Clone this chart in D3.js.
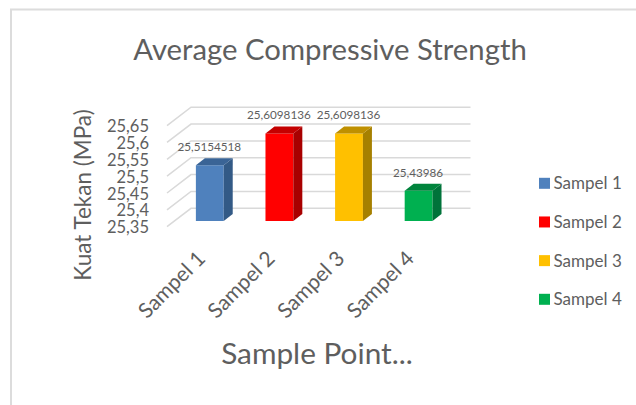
<!DOCTYPE html>
<html>
<head>
<meta charset="utf-8">
<script src="https://cdn.jsdelivr.net/npm/d3@7"></script>
<style>
  html, body { margin: 0; padding: 0; background: #fff; }
  text { font-family: Lato, "Open Sans", sans-serif; fill: #5e5e5e; }
</style>
</head>
<body>
<svg id="chart" width="636" height="405"></svg>
<script>
var categories = ["Sampel 1", "Sampel 2", "Sampel 3", "Sampel 4"];
var values = [25.5154518, 25.6098136, 25.6098136, 25.43986];
var yTicks = [25.35, 25.4, 25.45, 25.5, 25.55, 25.6, 25.65];

var faceColors = ["#4f81bd", "#ff0000", "#ffc000", "#00b050"];
var sideColors = ["#335a86", "#a80000", "#a68000", "#00733a"];
var topColors = ["#3a6496", "#c40000", "#bf9000", "#00843c"];

var depthX = 9, depthY = 7;       // bar depth, drawn up and to the right
var floorBack = 12.7, floorFront = 5.7;   // grid offset from the bar base line

var comma = function(v){ return String(v).replace(".", ","); };

var svg = d3.select("#chart");

// chart frame, only top and left show in the picture
svg.append("path")
  .attr("d", "M11,405V9.5H636")
  .attr("fill", "none")
  .attr("stroke", "#dcdcdc")
  .attr("stroke-width", 2);

var x = d3.scaleBand()
  .domain(categories)
  .range([175, 453.4])
  .paddingInner(0.6)
  .paddingOuter(0.3);

var y = d3.scaleLinear()
  .domain([25.35, 25.65])
  .range([221, 119.9]);

// gridlines: back wall and left wall
var grid = svg.append("g").attr("stroke", "#d9d9d9").attr("stroke-width", 1.5).attr("fill", "none");
grid.selectAll("polyline")
  .data(yTicks)
  .join("polyline")
  .attr("points", function(d){
    var yy = y(d);
    return [[167, yy + floorFront], [191, yy - floorBack], [470.5, yy - floorBack]].join(" ");
  });

// bars
var bars = svg.selectAll("g.bar")
  .data(values)
  .join("g")
  .attr("class", "bar");

bars.append("rect")
  .attr("x", function(d, i){ return x(categories[i]); })
  .attr("y", function(d){ return y(d); })
  .attr("width", x.bandwidth())
  .attr("height", function(d){ return y(25.35) - y(d); })
  .attr("fill", function(d, i){ return faceColors[i]; });

bars.append("polygon")
  .attr("fill", function(d, i){ return sideColors[i]; })
  .attr("points", function(d, i){
    var r = x(categories[i]) + x.bandwidth(), t = y(d), b = y(25.35);
    return [[r, t], [r + depthX, t - depthY], [r + depthX, b - depthY], [r, b]].join(" ");
  });

bars.append("polygon")
  .attr("fill", function(d, i){ return topColors[i]; })
  .attr("points", function(d, i){
    var l = x(categories[i]), r = l + x.bandwidth(), t = y(d);
    return [[l, t], [l + depthX, t - depthY], [r + depthX, t - depthY], [r, t]].join(" ");
  });

// data labels
svg.selectAll("text.value")
  .data(values)
  .join("text")
  .attr("class", "value")
  .attr("x", function(d, i){ return x(categories[i]) + x.bandwidth() / 2 - 0.5; })
  .attr("y", function(d){ return y(d) - 14; })
  .attr("text-anchor", "middle")
  .attr("font-size", 11.7)
  .text(comma);

// y axis labels
var yAxis = svg.append("g")
  .attr("transform", "translate(149,6.5)")
  .call(d3.axisLeft(y).tickValues(yTicks).tickFormat(comma).tickSize(0).tickPadding(0));
yAxis.select(".domain").remove();
yAxis.selectAll("text").attr("font-size", 16.5).style("font-family", "Lato");

// x axis labels
var xAxis = svg.append("g")
  .attr("transform", "translate(0,240)")
  .call(d3.axisBottom(x).tickSize(0).tickPadding(0));
xAxis.select(".domain").remove();
xAxis.selectAll("text")
  .attr("font-size", 21)
  .style("font-family", "Lato")
  .attr("text-anchor", "end")
  .attr("dy", "0.32em")
  .attr("transform", "translate(-8,15) rotate(-45)");

svg.append("text")
  .attr("x", 330).attr("y", 60)
  .attr("text-anchor", "middle")
  .attr("font-size", 29.3)
  .text("Average Compressive Strength");

svg.append("text")
  .attr("x", 317).attr("y", 364)
  .attr("text-anchor", "middle")
  .attr("font-size", 29.8)
  .text("Sample Point...");

svg.append("text")
  .attr("transform", "translate(91,195) rotate(-90)")
  .attr("text-anchor", "middle")
  .attr("font-size", 22.5)
  .text("Kuat Tekan (MPa)");

// legend
var legendY = d3.scalePoint().domain(categories).range([183.3, 299.3]);
var legend = svg.selectAll("g.legend")
  .data(categories)
  .join("g")
  .attr("class", "legend")
  .attr("transform", function(d){ return "translate(539," + legendY(d) + ")"; });
legend.append("rect")
  .attr("y", -5.5).attr("width", 11).attr("height", 11)
  .attr("fill", function(d, i){ return faceColors[i]; });
legend.append("text")
  .attr("x", 14.5).attr("dy", "0.35em")
  .attr("font-size", 17)
  .text(function(d){ return d; });
</script>
</body>
</html>
